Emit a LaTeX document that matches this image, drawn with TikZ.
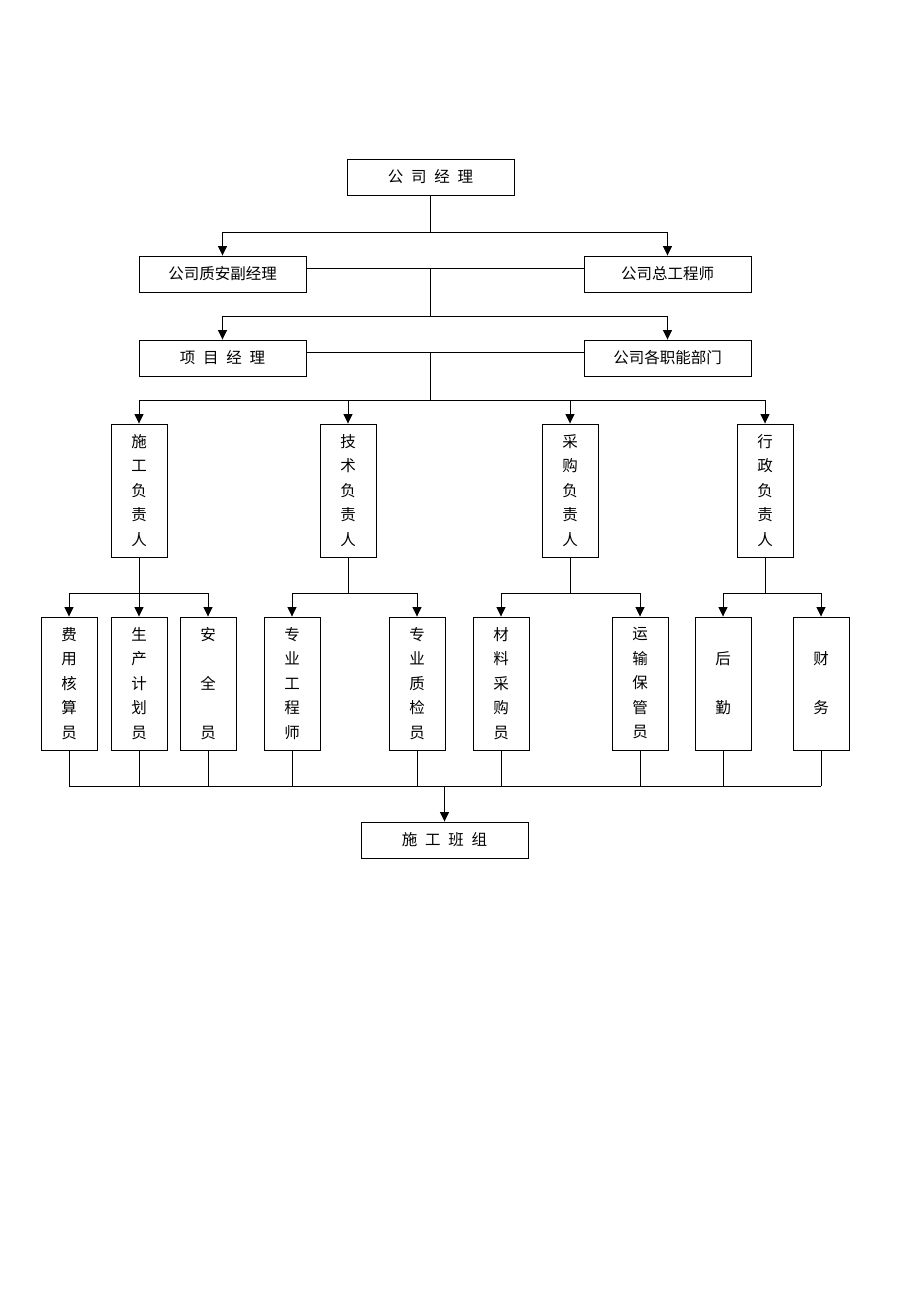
\documentclass[tikz,border=0pt]{standalone}
\usepackage{fontspec}
\newfontfamily\cjk{Noto Sans CJK SC}
\usetikzlibrary{arrows.meta}
\begin{document}
\begin{tikzpicture}[x=1pt,y=-1pt,
  every node/.style={font=\cjk\fontsize{15.5}{24.5}\selectfont},
  hbox/.style={draw,line width=0.9pt,minimum width=167pt,minimum height=36pt,inner sep=0pt},
  vbox/.style={draw,line width=0.9pt,minimum width=56pt,minimum height=133pt,inner sep=0pt,align=center},
  ln/.style={line width=0.9pt},
  arr/.style={line width=0.9pt,-{Triangle[length=9.5pt,width=9pt]}}]
\useasboundingbox (0,0) rectangle (920,1302);
\fill[white] (0,0) rectangle (920,1302);
\def\sp{\hspace{0.5em}}
% top levels
\node[hbox] (gm) at (430.5,177) {公\sp 司\sp 经\sp 理};
\node[hbox] (qa) at (222.5,274) {公司质安副经理};
\node[hbox] (ce) at (667.5,274) {公司总工程师};
\node[hbox] (pm) at (222.5,358) {项\sp 目\sp 经\sp 理};
\node[hbox] (fd) at (667.5,358) {公司各职能部门};
% leaders
\node[vbox] (c1) at (139,490.5) {施\\工\\负\\责\\人};
\node[vbox] (c2) at (348,490.5) {技\\术\\负\\责\\人};
\node[vbox] (c3) at (570,490.5) {采\\购\\负\\责\\人};
\node[vbox] (c4) at (765,490.5) {行\\政\\负\\责\\人};
% staff
\node[vbox] (b1) at (69,683.5) {费\\用\\核\\算\\员};
\node[vbox] (b2) at (139,683.5) {生\\产\\计\\划\\员};
\node[vbox] (b3) at (208,683.5) {安\\\mbox{}\\全\\\mbox{}\\员};
\node[vbox] (b4) at (292,683.5) {专\\业\\工\\程\\师};
\node[vbox] (b5) at (417,683.5) {专\\业\\质\\检\\员};
\node[vbox] (b6) at (501,683.5) {材\\料\\采\\购\\员};
\node[vbox] (b7) at (640,683.5) {运\\输\\保\\管\\员};
\node[vbox] (b8) at (723,683.5) {后\\\mbox{}\\勤};
\node[vbox] (b9) at (821,683.5) {财\\\mbox{}\\务};
\node[hbox] (team) at (444.5,840) {施\sp 工\sp 班\sp 组};
% connectors level 1
\coordinate (j1) at (gm.south |- 0,232);
\draw[ln] (gm.south) -- (j1);
\draw[arr] (j1) -| (qa.north);
\draw[arr] (j1) -| (ce.north);
% level 2
\draw[ln] ([yshift=6pt]qa.east) -- ([yshift=6pt]ce.west);
\coordinate (m1) at (gm.south |- 0,268);
\coordinate (j2) at (gm.south |- 0,316);
\draw[ln] (m1) -- (j2);
\draw[arr] (j2) -| (pm.north);
\draw[arr] (j2) -| (fd.north);
% level 3
\draw[ln] ([yshift=6pt]pm.east) -- ([yshift=6pt]fd.west);
\coordinate (m2) at (gm.south |- 0,352);
\coordinate (j3) at (gm.south |- 0,400);
\draw[ln] (m2) -- (j3);
\draw[ln] (c1.north |- j3) -- (c4.north |- j3);
\foreach \c in {c1,c2,c3,c4} \draw[arr] (\c.north |- j3) -- (\c.north);
% level 4
\coordinate (k1) at (c1.south |- 0,593);
\draw[ln] (c1.south) -- (k1);
\draw[ln] (b1.north |- k1) -- (b3.north |- k1);
\foreach \b in {b1,b2,b3} \draw[arr] (\b.north |- k1) -- (\b.north);
\coordinate (k2) at (c2.south |- 0,593);
\draw[ln] (c2.south) -- (k2);
\draw[ln] (b4.north |- k2) -- (b5.north |- k2);
\foreach \b in {b4,b5} \draw[arr] (\b.north |- k2) -- (\b.north);
\coordinate (k3) at (c3.south |- 0,593);
\draw[ln] (c3.south) -- (k3);
\draw[ln] (b6.north |- k3) -- (b7.north |- k3);
\foreach \b in {b6,b7} \draw[arr] (\b.north |- k3) -- (\b.north);
\coordinate (k4) at (c4.south |- 0,593);
\draw[ln] (c4.south) -- (k4);
\draw[ln] (b8.north |- k4) -- (b9.north |- k4);
\foreach \b in {b8,b9} \draw[arr] (\b.north |- k4) -- (\b.north);
% bottom
\coordinate (bb) at (team.north |- 0,786);
\foreach \b in {b1,b2,b3,b4,b5,b6,b7,b8,b9} \draw[ln] (\b.south) -- (\b.south |- bb);
\draw[ln] (b1.south |- bb) -- (b9.south |- bb);
\draw[arr] (bb) -- (team.north);
\end{tikzpicture}
\end{document}
